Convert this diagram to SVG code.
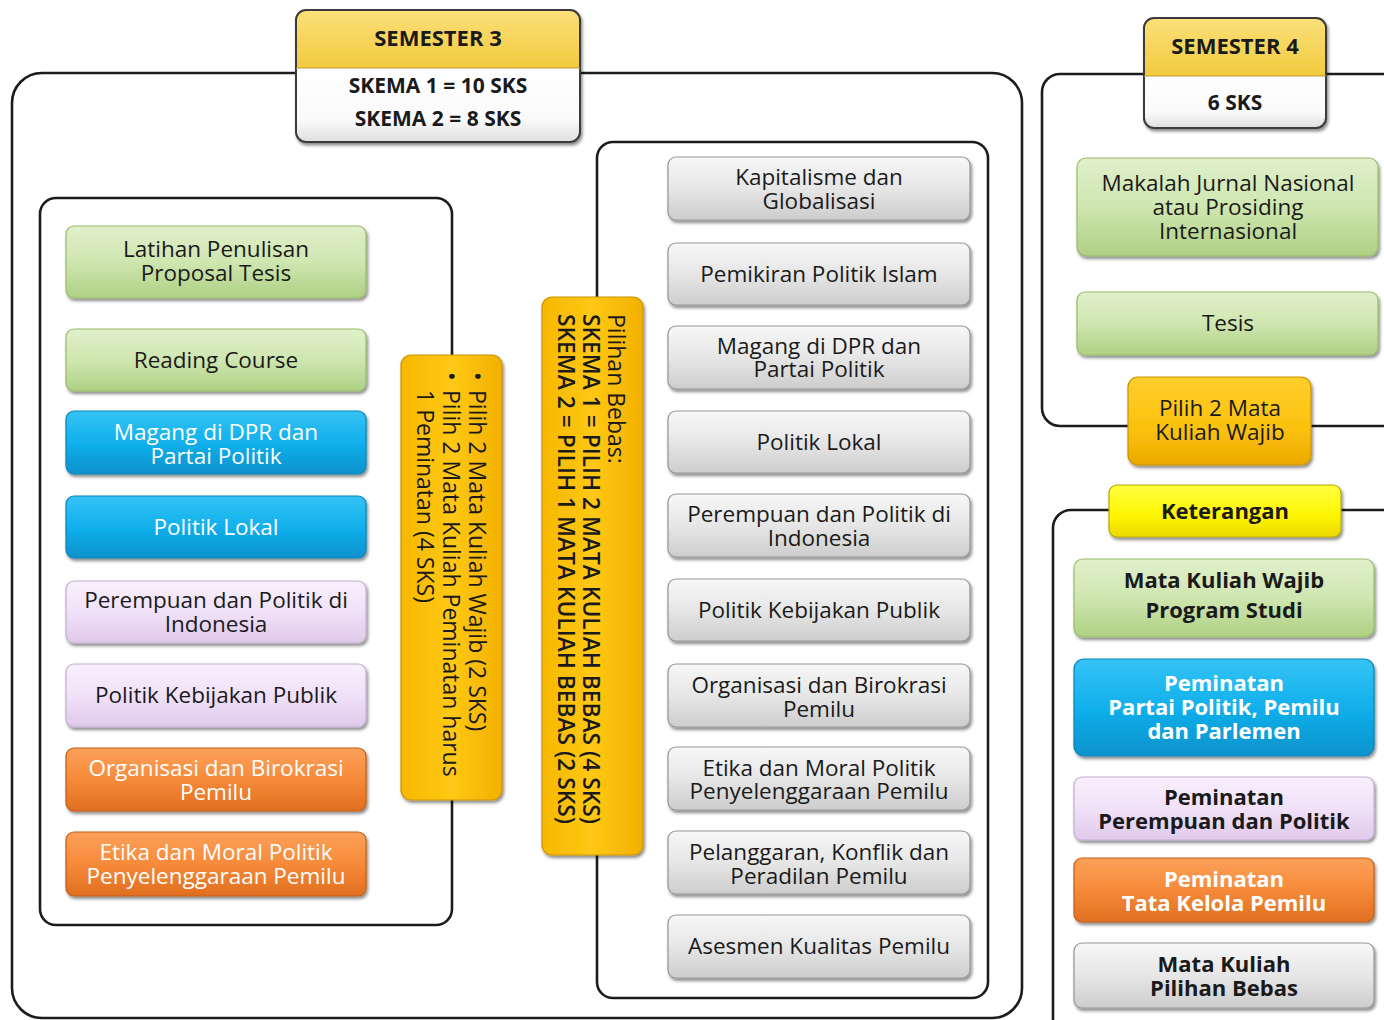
<svg xmlns="http://www.w3.org/2000/svg" width="1384" height="1020" viewBox="0 0 1384 1020">
  <defs>
    <linearGradient id="gGreen" x1="0" y1="0" x2="0" y2="1">
      <stop offset="0" stop-color="#e0f0cb"/>
      <stop offset="0.5" stop-color="#cfe6b0"/>
      <stop offset="1" stop-color="#aed083"/>
    </linearGradient>
    <linearGradient id="gBlue" x1="0" y1="0" x2="0" y2="1">
      <stop offset="0" stop-color="#35c3f5"/>
      <stop offset="0.5" stop-color="#12b0ec"/>
      <stop offset="1" stop-color="#0792cc"/>
    </linearGradient>
    <linearGradient id="gLav" x1="0" y1="0" x2="0" y2="1">
      <stop offset="0" stop-color="#f9effd"/>
      <stop offset="0.5" stop-color="#f1e1f8"/>
      <stop offset="1" stop-color="#dfc9ea"/>
    </linearGradient>
    <linearGradient id="gOrange" x1="0" y1="0" x2="0" y2="1">
      <stop offset="0" stop-color="#fca15a"/>
      <stop offset="0.5" stop-color="#f68a3a"/>
      <stop offset="1" stop-color="#e06f1f"/>
    </linearGradient>
    <linearGradient id="gGray" x1="0" y1="0" x2="0" y2="1">
      <stop offset="0" stop-color="#f7f7f7"/>
      <stop offset="0.5" stop-color="#e6e6e6"/>
      <stop offset="1" stop-color="#cdcdcd"/>
    </linearGradient>
    <linearGradient id="gGold" x1="0" y1="0" x2="1" y2="0">
      <stop offset="0" stop-color="#f6b800"/>
      <stop offset="0.5" stop-color="#ffc814"/>
      <stop offset="1" stop-color="#f2b000"/>
    </linearGradient>
    <linearGradient id="gGoldH" x1="0" y1="0" x2="0" y2="1">
      <stop offset="0" stop-color="#ffcf2e"/>
      <stop offset="0.6" stop-color="#fbc10c"/>
      <stop offset="1" stop-color="#eba900"/>
    </linearGradient>
    <linearGradient id="gHead" x1="0" y1="0" x2="0" y2="1">
      <stop offset="0" stop-color="#fbe07a"/>
      <stop offset="1" stop-color="#f2ca3e"/>
    </linearGradient>
    <linearGradient id="gWhite" x1="0" y1="0" x2="0" y2="1">
      <stop offset="0" stop-color="#ffffff"/>
      <stop offset="0.7" stop-color="#fafafa"/>
      <stop offset="1" stop-color="#dedede"/>
    </linearGradient>
    <linearGradient id="gLemon" x1="0" y1="0" x2="0" y2="1">
      <stop offset="0" stop-color="#ffff40"/>
      <stop offset="0.6" stop-color="#fdf500"/>
      <stop offset="1" stop-color="#ecd900"/>
    </linearGradient>
    <filter id="sh" x="-10%" y="-15%" width="125%" height="140%">
      <feDropShadow dx="1.5" dy="2.5" stdDeviation="1.6" flood-color="#000" flood-opacity="0.45"/>
    </filter>
    <style>
      .frame { fill: none; stroke: #1c1c1c; stroke-width: 2.6; }
      .box { stroke-width: 1.2; filter: url(#sh); }
      .green { fill: url(#gGreen); stroke: #97bb68; }
      .blue { fill: url(#gBlue); stroke: #0a84b6; }
      .lav { fill: url(#gLav); stroke: #c4aed2; }
      .orange { fill: url(#gOrange); stroke: #c15f18; }
      .gray { fill: url(#gGray); stroke: #959595; }
      .gold { fill: url(#gGold); stroke: #c99300; }
      .goldh { fill: url(#gGoldH); stroke: #c99300; }
      .lemon { fill: url(#gLemon); stroke: #b5a800; }
      text { font-family: "Open Sans", "Noto Sans", "DejaVu Sans", sans-serif; font-size: 22.5px; fill: #1a1a1a; text-anchor: middle; }
      .w { fill: #ffffff; }
      .b { font-weight: bold; font-size: 22px; }
      .hd { font-weight: bold; font-size: 21px; }
      .big { font-size: 22px; }
      .v { text-anchor: start; font-size: 23px; }
      .vb { font-weight: 600; }
    </style>
  </defs>

  <!-- container frames -->
  <g id="frames">
    <rect class="frame" x="12" y="73" width="1010" height="945" rx="30"/>
    <rect class="frame" x="40" y="198" width="412" height="727" rx="16"/>
    <rect class="frame" x="597" y="142" width="391" height="856" rx="16"/>
    <rect class="frame" x="1042" y="74" width="420" height="352" rx="18"/>
    <rect class="frame" x="1053" y="510" width="420" height="560" rx="18"/>
  </g>

  <g id="connectors"></g>

  <!-- semester headers -->
  <g id="semester-3">
    <g filter="url(#sh)">
      <path d="M296,68 V20 Q296,10 306,10 H570 Q580,10 580,20 V68 Z" fill="url(#gHead)"/>
      <path d="M296,68 H580 V132 Q580,142 570,142 H306 Q296,142 296,132 Z" fill="url(#gWhite)"/>
      <rect x="296" y="10" width="284" height="132" rx="10" fill="none" stroke="#3a3a3a" stroke-width="2"/>
      <line x1="296" y1="68" x2="580" y2="68" stroke="#b9982c" stroke-width="1.2"/>
    </g>
    <text class="hd big" x="438" y="46">SEMESTER 3</text>
    <text class="hd" x="438" y="93">SKEMA 1 = 10 SKS</text>
    <text class="hd" x="438" y="126">SKEMA 2 = 8 SKS</text>
  </g>
  <g id="semester-4">
    <g filter="url(#sh)">
      <path d="M1144,76 V28 Q1144,18 1154,18 H1316 Q1326,18 1326,28 V76 Z" fill="url(#gHead)"/>
      <path d="M1144,76 H1326 V118 Q1326,128 1316,128 H1154 Q1144,128 1144,118 Z" fill="url(#gWhite)"/>
      <rect x="1144" y="18" width="182" height="110" rx="10" fill="none" stroke="#3a3a3a" stroke-width="2"/>
      <line x1="1144" y1="76" x2="1326" y2="76" stroke="#b9982c" stroke-width="1.2"/>
    </g>
    <text class="hd big" x="1235" y="54">SEMESTER 4</text>
    <text class="hd" x="1235" y="110">6 SKS</text>
  </g>

  <!-- semester 3: required and concentration courses -->
  <g id="latihan-penulisan">
    <rect class="box green" x="66" y="226" width="300" height="72" rx="8"/>
    <text x="216" y="257">Latihan Penulisan<tspan x="216" dy="24">Proposal Tesis</tspan></text>
  </g>
  <g id="reading-course">
    <rect class="box green" x="66" y="329" width="300" height="62" rx="8"/>
    <text x="216" y="368">Reading Course</text>
  </g>
  <g id="magang-dpr-a">
    <rect class="box blue" x="66" y="411" width="300" height="63" rx="8"/>
    <text class="w" x="216" y="440">Magang di DPR dan<tspan x="216" dy="24">Partai Politik</tspan></text>
  </g>
  <g id="politik-lokal-a">
    <rect class="box blue" x="66" y="496" width="300" height="62" rx="8"/>
    <text class="w" x="216" y="535">Politik Lokal</text>
  </g>
  <g id="perempuan-politik-a">
    <rect class="box lav" x="66" y="581" width="300" height="62" rx="8"/>
    <text x="216" y="608">Perempuan dan Politik di<tspan x="216" dy="24">Indonesia</tspan></text>
  </g>
  <g id="kebijakan-publik-a">
    <rect class="box lav" x="66" y="664" width="300" height="63" rx="8"/>
    <text x="216" y="703">Politik Kebijakan Publik</text>
  </g>
  <g id="organisasi-birokrasi-a">
    <rect class="box orange" x="66" y="748" width="300" height="63" rx="8"/>
    <text class="w" x="216" y="776">Organisasi dan Birokrasi<tspan x="216" dy="24">Pemilu</tspan></text>
  </g>
  <g id="etika-moral-a">
    <rect class="box orange" x="66" y="832" width="300" height="64" rx="8"/>
    <text class="w" x="216" y="860">Etika dan Moral Politik<tspan x="216" dy="24">Penyelenggaraan Pemilu</tspan></text>
  </g>

  <!-- choice rules -->
  <g id="aturan-wajib">
    <rect class="box gold" x="401" y="355" width="101" height="445" rx="10"/>
    <text class="v" transform="translate(469,372) rotate(90)">•</text>
    <text class="v" transform="translate(469,390) rotate(90)">Pilih 2 Mata Kuliah Wajib (2 SKS)</text>
    <text class="v" transform="translate(443,372) rotate(90)">•</text>
    <text class="v" transform="translate(443,390) rotate(90)">Pilih 2 Mata Kuliah Peminatan harus</text>
    <text class="v" transform="translate(417,390) rotate(90)">1 Peminatan (4 SKS)</text>
  </g>
  <g id="aturan-bebas">
    <rect class="box gold" x="542" y="297" width="101" height="558" rx="10"/>
    <text class="v" transform="translate(608,314) rotate(90)">Pilihan Bebas:</text>
    <text class="v vb" transform="translate(583,314) rotate(90)" textLength="510" lengthAdjust="spacingAndGlyphs">SKEMA 1 = PILIH 2 MATA KULIAH BEBAS (4 SKS)</text>
    <text class="v vb" transform="translate(558,314) rotate(90)" textLength="510" lengthAdjust="spacingAndGlyphs">SKEMA 2 = PILIH 1 MATA KULIAH BEBAS (2 SKS)</text>
  </g>

  <!-- semester 3: elective courses -->
  <g id="kapitalisme">
    <rect class="box gray" x="668" y="157" width="302" height="63" rx="8"/>
    <text x="819" y="185">Kapitalisme dan<tspan x="819" dy="24">Globalisasi</tspan></text>
  </g>
  <g id="pemikiran-islam">
    <rect class="box gray" x="668" y="243" width="302" height="62" rx="8"/>
    <text x="819" y="282">Pemikiran Politik Islam</text>
  </g>
  <g id="magang-dpr-b">
    <rect class="box gray" x="668" y="326" width="302" height="63" rx="8"/>
    <text x="819" y="354">Magang di DPR dan<tspan x="819" dy="23">Partai Politik</tspan></text>
  </g>
  <g id="politik-lokal-b">
    <rect class="box gray" x="668" y="411" width="302" height="62" rx="8"/>
    <text x="819" y="450">Politik Lokal</text>
  </g>
  <g id="perempuan-politik-b">
    <rect class="box gray" x="668" y="494" width="302" height="63" rx="8"/>
    <text x="819" y="522">Perempuan dan Politik di<tspan x="819" dy="24">Indonesia</tspan></text>
  </g>
  <g id="kebijakan-publik-b">
    <rect class="box gray" x="668" y="579" width="302" height="62" rx="8"/>
    <text x="819" y="618">Politik Kebijakan Publik</text>
  </g>
  <g id="organisasi-birokrasi-b">
    <rect class="box gray" x="668" y="664" width="302" height="63" rx="8"/>
    <text x="819" y="693">Organisasi dan Birokrasi<tspan x="819" dy="24">Pemilu</tspan></text>
  </g>
  <g id="etika-moral-b">
    <rect class="box gray" x="668" y="747" width="302" height="63" rx="8"/>
    <text x="819" y="776">Etika dan Moral Politik<tspan x="819" dy="23">Penyelenggaraan Pemilu</tspan></text>
  </g>
  <g id="pelanggaran">
    <rect class="box gray" x="668" y="831" width="302" height="63" rx="8"/>
    <text x="819" y="860">Pelanggaran, Konflik dan<tspan x="819" dy="24">Peradilan Pemilu</tspan></text>
  </g>
  <g id="asesmen">
    <rect class="box gray" x="668" y="915" width="302" height="63" rx="8"/>
    <text x="819" y="954">Asesmen Kualitas Pemilu</text>
  </g>

  <!-- semester 4 -->
  <g id="makalah-jurnal">
    <rect class="box green" x="1077" y="158" width="301" height="98" rx="9"/>
    <text x="1228" y="191">Makalah Jurnal Nasional<tspan x="1228" dy="24">atau Prosiding</tspan><tspan x="1228" dy="24">Internasional</tspan></text>
  </g>
  <g id="tesis">
    <rect class="box green" x="1077" y="292" width="301" height="63" rx="8"/>
    <text x="1228" y="331">Tesis</text>
  </g>
  <g id="pilih-wajib">
    <rect class="box goldh" x="1128" y="377" width="183" height="88" rx="10"/>
    <text x="1220" y="416">Pilih 2 Mata<tspan x="1220" dy="24">Kuliah Wajib</tspan></text>
  </g>

  <!-- legend -->
  <g id="keterangan">
    <rect class="box lemon" x="1109" y="485" width="232" height="52" rx="8"/>
    <text class="b" x="1225" y="519">Keterangan</text>
  </g>
  <g id="legend-wajib">
    <rect class="box green" x="1074" y="559" width="300" height="78" rx="9"/>
    <text class="b" x="1224" y="588">Mata Kuliah Wajib<tspan x="1224" dy="30">Program Studi</tspan></text>
  </g>
  <g id="legend-partai">
    <rect class="box blue" x="1074" y="659" width="300" height="97" rx="10"/>
    <text class="b w" x="1224" y="691">Peminatan<tspan x="1224" dy="24">Partai Politik, Pemilu</tspan><tspan x="1224" dy="24">dan Parlemen</tspan></text>
  </g>
  <g id="legend-perempuan">
    <rect class="box lav" x="1074" y="777" width="300" height="63" rx="8"/>
    <text class="b" x="1224" y="805">Peminatan<tspan x="1224" dy="24">Perempuan dan Politik</tspan></text>
  </g>
  <g id="legend-tata-kelola">
    <rect class="box orange" x="1074" y="858" width="300" height="64" rx="8"/>
    <text class="b w" x="1224" y="887">Peminatan<tspan x="1224" dy="24">Tata Kelola Pemilu</tspan></text>
  </g>
  <g id="legend-bebas">
    <rect class="box gray" x="1074" y="943" width="300" height="65" rx="8"/>
    <text class="b" x="1224" y="972">Mata Kuliah<tspan x="1224" dy="24">Pilihan Bebas</tspan></text>
  </g>
</svg>
